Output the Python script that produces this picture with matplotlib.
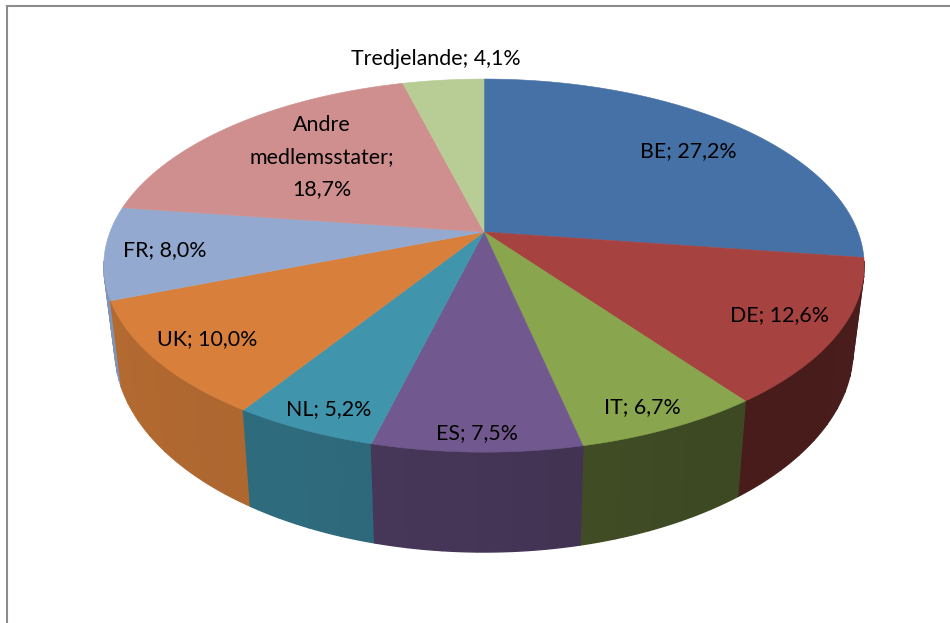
import numpy as np
import matplotlib
matplotlib.use("Agg")
import matplotlib.pyplot as plt

names = ["BE", "DE", "IT", "ES", "NL", "UK", "FR", "Andre medlemsstater", "Tredjelande"]
shares = [27.2, 12.6, 6.7, 7.5, 5.2, 10.0, 8.0, 18.7, 4.1]
colors = ["#4571A6", "#A6423F", "#89A54E", "#71588F", "#4095AD", "#D8803B", "#93A9CF", "#CF8F8E", "#B8CC95"]

# label centres in picture pixels
label_xy = [(688, 151), (780, 315), (642, 407), (477, 433), (329, 409),
            (207, 339), (165, 250), (322, 157), (436, 59)]

# wall darkening by angle (deg clockwise from the top of the pie)
shade_angles = [60, 100, 150, 165, 180, 213, 235, 260, 300]
shade_values = [0.42, 0.44, 0.42, 0.50, 0.60, 0.76, 0.83, 0.88, 0.90]

TILT = 0.18
WALL_FROM, WALL_TO = np.radians(99), np.radians(261)


def project(theta, a, b, cx, cy):
    # perspective view of the unit circle, theta clockwise from the top
    x = np.sin(theta)
    y = np.cos(theta)
    w = 1 + TILT * y
    return cx + a * x / w, cy - b * y / w


def top(theta):
    return project(theta, 374, 180.5, 484, 232)


def bottom(theta):
    return project(theta, 363, 196, 484, 313)


def shade(deg):
    return np.interp(deg, shade_angles, shade_values)


fig = plt.figure(figsize=(9.5, 6.23), dpi=100)
ax = fig.add_axes([0, 0, 1, 1])
ax.set_xlim(0, 950)
ax.set_ylim(623, 0)
ax.axis("off")

# chart frame, only the top and left sides are in the picture
ax.plot([6.5, 6.5, 950], [623, 5.5, 5.5], color="#8C8C8C", lw=1.5, solid_joinstyle="miter")

edges = np.concatenate([[0], np.cumsum(shares)]) / sum(shares) * 2 * np.pi

# side walls, back to front, in broad bands
strips = []
for i, c in enumerate(colors):
    lo, hi = max(edges[i], WALL_FROM), min(edges[i + 1], WALL_TO)
    if hi <= lo:
        continue
    n = max(int(shares[i] * 0.8), 2)
    mid = np.degrees((edges[i] + edges[i + 1]) / 2)
    t = np.linspace(lo, hi, n + 1)
    for t0, t1 in zip(t[:-1], t[1:]):
        strips.append((abs(np.pi - (t0 + t1) / 2), t0, t1, c, mid))
strips.sort(key=lambda s: -s[0])

for _, t0, t1, c, mid in strips:
    tt = np.linspace(t0, t1, 30)
    xt, yt = top(tt)
    xb, yb = bottom(tt)
    # mostly one shade per slice, so the bands stay faint
    s = 0.7 * shade(mid) + 0.3 * shade(np.degrees((t0 + t1) / 2))
    rgb = np.array(matplotlib.colors.to_rgb(c)) * s
    ax.fill(np.concatenate([xt, xb[::-1]]), np.concatenate([yt, yb[::-1]]),
            color=rgb, lw=1.0)

# top surface
for i, c in enumerate(colors):
    tt = np.linspace(edges[i], edges[i + 1], 120)
    x, y = top(tt)
    ax.fill(np.concatenate([[484], x]), np.concatenate([[232], y]), color=c, lw=0.4)

# labels
for name, v, (lx, ly) in zip(names, shares, label_xy):
    pct = f"{v:.1f}%".replace(".", ",")
    if " " in name:
        first, second = name.split(" ")
        txt = f"{first}\n{second};\n{pct}"
    else:
        txt = f"{name}; {pct}"
    ax.text(lx, ly, txt, ha="center", va="center", family="Lato", fontsize=15.4,
            color="black", linespacing=1.78)

fig.savefig("out.png", dpi=100)
